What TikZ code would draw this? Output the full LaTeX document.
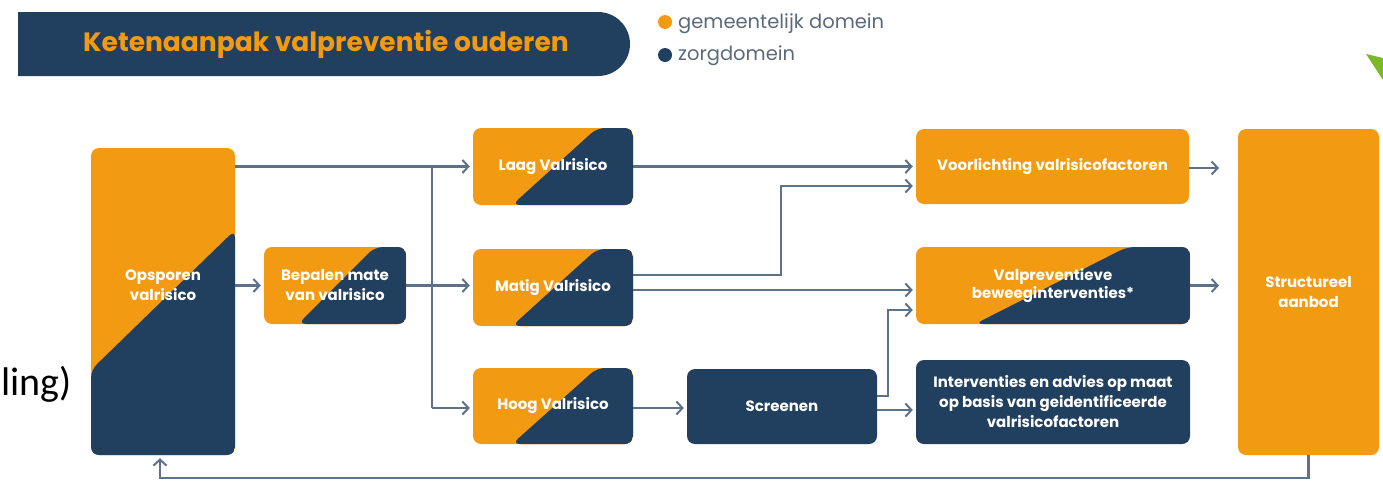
\documentclass[tikz,border=0pt]{standalone}
\usepackage{fontspec}
\setmainfont{Poppins}
\newfontfamily\calibrifont{Carlito}
\usetikzlibrary{arrows.meta,calc}
\definecolor{navy}{HTML}{21405F}
\definecolor{orng}{HTML}{F39A13}
\definecolor{lnc}{HTML}{5D728A}
\definecolor{legc}{HTML}{5B6A7B}
\definecolor{grn}{HTML}{7CB928}
\begin{document}
\begin{tikzpicture}[x=1pt,y=-1pt,
  boxtxt/.style={text=white, font=\fontsize{15}{20}\selectfont\bfseries, align=center, inner sep=0pt},
  box/.style={boxtxt, rounded corners=8pt},
  obox/.style={box, fill=orng},
  nbox/.style={box, fill=navy},
  dsplit/.style 2 args={box, fill=orng, path picture={\fill[navy] ($(path picture bounding box.north west)!#1!(path picture bounding box.north east)$) -- (path picture bounding box.north east) -- (path picture bounding box.south east) -- ($(path picture bounding box.south west)!#2!(path picture bounding box.south east)$) -- cycle;}},
  vsplit/.style 2 args={box, fill=orng, path picture={\fill[navy] ($(path picture bounding box.north west)!#1!(path picture bounding box.south west)$) -- ($(path picture bounding box.north east)!#2!(path picture bounding box.south east)$) -- (path picture bounding box.south east) -- (path picture bounding box.south west) -- cycle;}},
  conn/.style={draw=lnc, line width=2.2pt},
  arr/.style={conn, -{Straight Barb[length=6pt,width=13pt,line width=2pt]}, shorten >=3pt},
  legtxt/.style={text=legc, font=\fontsize{19.5}{22}\selectfont, anchor=west, inner sep=0pt}
]
\useasboundingbox (0,0) rectangle (1383,480);

% title banner
\fill[navy] (18,12) -- (598,12) arc[start angle=-90, end angle=90, radius=32] -- (18,76) -- cycle;
\node[text=orng, font=\fontsize{26.5}{30}\selectfont\bfseries, inner sep=0pt] (title) at (326,44) {Ketenaanpak valpreventie ouderen};

% legend
\fill[orng] (665,22) circle[radius=7];
\node[legtxt] (leg1) at (678,24) {gemeentelijk domein};
\fill[navy] (665,55) circle[radius=7];
\node[legtxt] (leg2) at (678,56) {zorgdomein};

% green corner
\fill[grn] (1366,54) -- (1383,58) -- (1383,80) -- cycle;

% cut-off text
\node[anchor=base west, inner sep=0pt, font=\calibrifont\fontsize{40}{44}\selectfont] (ling) at (1,395) {ling)};

% boxes
\node[vsplit={0.723}{0.267}, minimum width=144pt, minimum height=307pt] (ops) at (163,301.5) {};
\node[boxtxt] (opsT) at (163,285) {Opsporen\\valrisico};
\node[dsplit={0.78}{0.24}, minimum width=142pt, minimum height=77pt] (bep) at (335,285.5) {Bepalen mate\\van valrisico};
\node[dsplit={0.775}{0.244}, minimum width=160pt, minimum height=77pt] (laag) at (553,166.5) {Laag Valrisico};
\node[dsplit={0.775}{0.244}, minimum width=160pt, minimum height=77pt] (matig) at (553,287.5) {Matig Valrisico};
\node[dsplit={0.775}{0.244}, minimum width=160pt, minimum height=76pt] (hoog) at (553,406) {Hoog Valrisico};
\node[nbox, minimum width=190pt, minimum height=75pt] (scr) at (782,406.5) {Screenen};
\node[obox, minimum width=273pt, minimum height=75pt] (voor) at (1052.5,166.5) {Voorlichting valrisicofactoren};
\node[dsplit={0.77}{0.215}, minimum width=274pt, minimum height=77pt, font=\fontsize{15}{17.5}\selectfont\bfseries] (valp) at (1053,285.5) {Valpreventieve\\beweeginterventies*};
\node[nbox, minimum width=274pt, minimum height=84pt] (intv) at (1053,402) {Interventies en advies op maat\\op basis van geidentificeerde\\valrisicofactoren};
\node[obox, minimum width=141pt, minimum height=326pt] (str) at (1308.5,292) {Structureel\\aanbod};

% junctions
\coordinate (j1) at (432,166.5);
\coordinate (j3) at (432,408);
\coordinate (m1) at (781,275);
\coordinate (m2) at (781,186);
\coordinate (s1) at (888,396);
\coordinate (s2) at (888,310);
\coordinate (v1) at (1222,168);
\coordinate (v2) at (1222,285.5);
\coordinate (f1) at (1308.5,478);
\coordinate (f2) at (160,478);

% connectors
\draw[conn] (ops.east |- j1) -- (j1) -- (j3);
\draw[arr] (j1) -- (laag.west);
\draw[arr] (j3) -- (hoog.west |- j3);
\draw[arr] (ops.east |- bep.west) -- (bep.west);
\draw[arr] (bep.east) -- (matig.west |- bep.east);
\draw[arr] (laag.east) -- (voor.west);
\draw[arr] (matig.east |- m1) -- (m1) -- (m2) -- (voor.west |- m2);
\draw[arr] (matig.east |- 0,290) -- (valp.west |- 0,290);
\draw[arr] (hoog.east |- j3) -- (scr.west |- j3);
\draw[arr] (scr.east |- s1) -- (s1) -- (s2) -- (valp.west |- s2);
\draw[arr] (scr.east |- 0,410) -- (intv.west |- 0,410);
\draw[arr] (voor.east |- v1) -- (v1);
\draw[arr] (valp.east) -- (v2);
\draw[arr] (str.south) -- (f1) -- (f2) -- (ops.south -| f2);
\end{tikzpicture}
\end{document}
